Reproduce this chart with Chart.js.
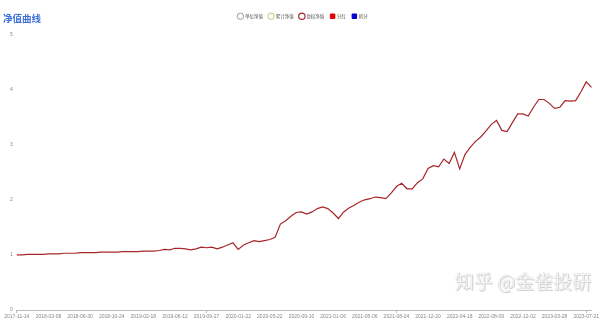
<!DOCTYPE html>
<html>
<head>
<meta charset="utf-8">
<script src="https://cdn.jsdelivr.net/npm/chart.js@4"></script>
<style>
  body { margin: 0; background: #fff; }
  #wrap { position: relative; width: 600px; height: 321px; }
  #title {
    position: absolute; left: 3px; top: 11px;
    font: bold 9.5px "Noto Sans CJK SC", sans-serif; color: #3d6fd9;
  }
  #mark {
    position: absolute; left: 455px; top: 267px; white-space: nowrap;
    font: 19px "Noto Sans CJK SC", sans-serif; color: #f4f4f4;
    text-shadow: 0 0 1px #bdbdbd, 1px 1px 0 #d4d4d4;
  }
</style>
</head>
<body>
<div id="wrap">
  <canvas id="navChart"></canvas>
  <div id="title">净值曲线</div>
  <div id="mark">知乎 @金雀投研</div>
</div>
<script>
// dates shown under the x axis, one every 6 points
var tickDates = ['2017-11-14','2018-03-08','2018-06-30','2018-10-24','2019-02-18','2019-06-12',
  '2019-09-27','2020-01-22','2020-05-22','2020-09-10','2021-01-06','2021-05-06','2021-08-24',
  '2021-12-20','2022-04-18','2022-08-09','2022-12-02','2023-03-28','2023-07-21'];

// 复权净值
var adjNav = [
  1.00,1.00,1.01,1.01,1.01,1.01,1.02,1.02,1.02,1.03,
  1.03,1.03,1.04,1.04,1.04,1.04,1.05,1.05,1.05,1.05,
  1.06,1.06,1.06,1.06,1.07,1.07,1.07,1.08,1.10,1.09,
  1.12,1.12,1.11,1.09,1.11,1.14,1.13,1.14,1.11,1.14,
  1.18,1.22,1.10,1.18,1.22,1.26,1.24,1.26,1.28,1.32,
  1.56,1.62,1.70,1.77,1.78,1.74,1.78,1.84,1.87,1.84,
  1.76,1.66,1.78,1.85,1.90,1.96,2.00,2.02,2.05,2.04,
  2.02,2.12,2.24,2.30,2.20,2.20,2.31,2.38,2.57,2.62,
  2.60,2.74,2.66,2.86,2.56,2.82,2.95,3.06,3.14,3.25,
  3.37,3.44,3.26,3.24,3.40,3.56,3.56,3.52,3.68,3.82,
  3.82,3.75,3.66,3.68,3.80,3.79,3.80,3.96,4.14,4.04
];

var legendNames = ['单位净值','累计净值','复权净值','分红','拆分'];
var legendColors = ['#8aa0b8','#c9c07a','#a8262b','#e00000','#0000d0'];

var labels = adjNav.map(function(v, i){
  return i % 6 === 0 ? (tickDates[i / 6] || '') : '';
});

var datasets = legendNames.map(function(name, i){
  var isRect = i > 2;
  return {
    label: name,
    data: i === 2 ? adjNav : [],
    borderColor: legendColors[i],
    backgroundColor: isRect ? legendColors[i] : '#fff',
    borderWidth: i === 2 ? 1.2 : 1,
    pointStyle: isRect ? 'rect' : 'circle',
    pointRadius: 0,
    tension: 0
  };
});

// a bit more room under the legend
var legendGap = {
  id: 'legendGap',
  beforeInit: function(chart){
    var fit = chart.legend.fit;
    chart.legend.fit = function(){
      fit.bind(chart.legend)();
      this.height += 6;
    };
  }
};

var ctx = document.getElementById('navChart').getContext('2d');
var navChart = new Chart(ctx, {
  type: 'line',
  data: { labels: labels, datasets: datasets },
  plugins: [legendGap],
  options: {
    responsive: true,
    maintainAspectRatio: false,
    animation: false,
    layout: { padding: { top: 8, right: 0, left: 6, bottom: 0 } },
    plugins: {
      tooltip: { enabled: false },
      legend: {
        position: 'top',
        labels: {
          usePointStyle: true,
          boxWidth: 5,
          boxHeight: 5,
          padding: 6,
          color: '#555',
          font: { size: 4.5, family: 'Noto Sans CJK SC' }
        }
      }
    },
    scales: {
      x: {
        border: { color: '#bbb' },
        grid: {
          drawOnChartArea: false,
          tickLength: 3,
          color: function(c){ return c.index % 6 === 0 ? '#bbb' : 'rgba(0,0,0,0)'; }
        },
        ticks: {
          autoSkip: false,
          maxRotation: 0,
          padding: 1,
          color: '#888',
          font: { size: 5 },
          callback: function(v, i){ return i % 6 === 0 ? this.getLabelForValue(v) : null; }
        }
      },
      y: {
        min: 0,
        max: 5,
        border: { display: false },
        grid: { display: false, drawTicks: false },
        ticks: {
          stepSize: 1,
          padding: 4,
          color: '#888',
          font: { size: 5 }
        }
      }
    }
  }
});
</script>
</body>
</html>
